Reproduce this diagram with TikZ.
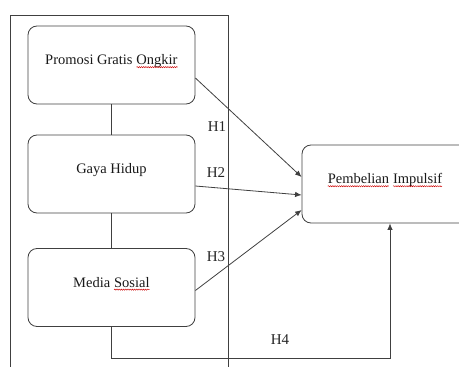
\documentclass[tikz,border=0pt]{standalone}
\usepackage{fontspec}
\setmainfont{Liberation Serif}
\usepackage{tikz}
\usetikzlibrary{calc, arrows.meta, positioning, decorations.pathmorphing}
\newcommand\spellwave[1]{\tikz[baseline=(sw.base), sharp corners]{\node[inner sep=0pt, outer sep=0pt,
    minimum size=0pt, text depth=, draw=none] (sw) {#1};
    \draw[red!80!black, line width=0.45pt, sharp corners, decorate,
    decoration={snake, amplitude=0.6pt, segment length=2.2pt}]
    ([yshift=-2.6pt]sw.base west) -- ([yshift=-2.6pt]sw.base east);}}

\begin{document}
\begin{tikzpicture}[x=1pt,y=-1pt,
    varbox/.style={draw=black!75, line width=0.8pt, rounded corners=9pt,
        minimum width=167pt, minimum height=78pt, text depth=11pt,
        font=\fontsize{14.5}{16}\selectfont, text=black!90},
    link/.style={draw=black!75, line width=0.8pt},
    hyp/.style={link, -{Latex[length=6.5pt,width=5.5pt]}},
    hlabel/.style={font=\fontsize{15}{17}\selectfont, text=black!85, inner sep=0pt}]
            \useasboundingbox (0,0) rectangle (459,367);
            \draw[link] (10,370) -- (10,15) -- (228,15) -- (228,370);
            \node[varbox] (promosi) at (111.5,65) {Promosi Gratis \spellwave{Ongkir}};
            \node[varbox] (gaya) at (111.5,174) {Gaya Hidup};
            \node[varbox] (media) at (111.5,287.5) {Media \spellwave{Sosial}};
            \node[varbox, minimum width=166pt] (impulsif) at (385,184)
                {\spellwave{Pembelian} \spellwave{Impulsif}};
            \draw[link] (promosi) -- (gaya);
            \draw[link] (gaya) -- (media);
            \draw[hyp] ([yshift=-13pt]promosi.east) -- ([yshift=7pt]impulsif.west);
            \draw[hyp] ([yshift=-12pt]gaya.east) -- ([yshift=-11pt]impulsif.west);
            \draw[hyp] ([yshift=-3pt]media.east) -- ([yshift=-26pt]impulsif.west);
            \draw[hyp] (media.south) -- ++(0,31) -| ([xshift=5pt]impulsif.south);
            \node[hlabel] (h1) at (217,127) {H1};
            \node[hlabel] (h2) at (216,173) {H2};
            \node[hlabel] (h3) at (216,257) {H3};
            \node[hlabel] (h4) at (280,340) {H4};
        \end{tikzpicture}
\end{document}
